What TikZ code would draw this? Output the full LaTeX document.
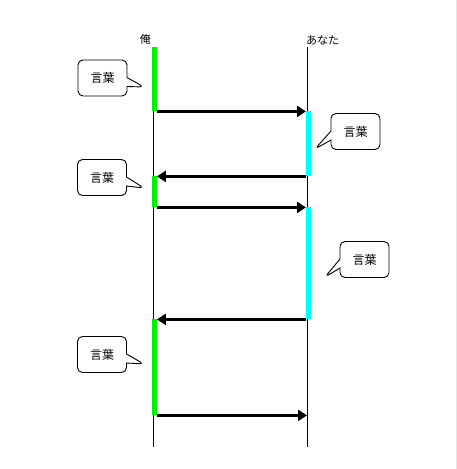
\documentclass[tikz,border=0pt]{standalone}
\usepackage{fontspec}
\newfontfamily\jp{Noto Sans CJK JP}
\usetikzlibrary{arrows.meta,shapes.callouts}
\definecolor{actg}{RGB}{0,240,0}
\definecolor{actc}{RGB}{0,255,255}
\begin{document}
\begin{tikzpicture}[x=1pt,y=-1pt,
  lifeline/.style={draw=black,line width=1pt},
  gbar/.style={fill=actg,draw=none,minimum width=4.5pt,inner sep=0pt,anchor=north west},
  cbar/.style={fill=actc,draw=none,minimum width=4.5pt,inner sep=0pt,anchor=north west},
  msg/.style={line width=3.5pt,-{Triangle[length=9pt,width=11pt]}},
  bubble/.style={rectangle callout,draw=black,line width=0.9pt,rounded corners=5pt,fill=white,
    minimum width=49pt,minimum height=36pt,inner sep=0pt,callout pointer width=9pt,font=\jp\fontsize{12}{12}\selectfont},
  lbl/.style={font=\jp\fontsize{11}{11}\selectfont,inner sep=0pt}]
\useasboundingbox (0,0) rectangle (457,469);
\draw[gray!20,line width=1pt] (456.5,0) -- (456.5,469);
% lifelines
\coordinate (Lt) at (153,47); \coordinate (Lb) at (153,447);
\coordinate (Rt) at (307,47); \coordinate (Rb) at (307,447);
\draw[lifeline] (Lt) -- (Lb);
\draw[lifeline] (Rt) -- (Rb);
\node[lbl,anchor=south east] (me) at (151,45) {俺};
\node[lbl,anchor=south west] (you) at (306,45) {あなた};
% activation bars
\node[gbar,minimum height=64pt] (g1) at (152,47) {};
\node[cbar,minimum height=65pt] (c1) at (306,111) {};
\node[gbar,minimum height=31pt] (g2) at (152,176) {};
\node[cbar,minimum height=112pt] (c2) at (306,207) {};
\node[gbar,minimum height=96pt] (g3) at (152,319) {};
% messages
\draw[msg] (g1.south east) -- (g1.south east -| c1.west);
\draw[msg] (c1.south west) -- (c1.south west -| g2.east);
\draw[msg] (g2.south east) -- (g2.south east -| c2.west);
\draw[msg] (c2.south west) -- (c2.south west -| g3.east);
\draw[msg] (g3.south east) -- (g3.south east -| Rt);
% callouts
\node[bubble,callout absolute pointer={(144,87)}] (b1) at (102.5,78) {言葉};
\node[bubble,callout absolute pointer={(315,149)}] (b2) at (355.5,131.5) {言葉};
\node[bubble,callout absolute pointer={(144,188)}] (b3) at (102,177.5) {言葉};
\node[bubble,callout absolute pointer={(325,277)}] (b4) at (364.5,259.5) {言葉};
\node[bubble,callout absolute pointer={(144,364)}] (b5) at (102,354.5) {言葉};
\end{tikzpicture}
\end{document}
